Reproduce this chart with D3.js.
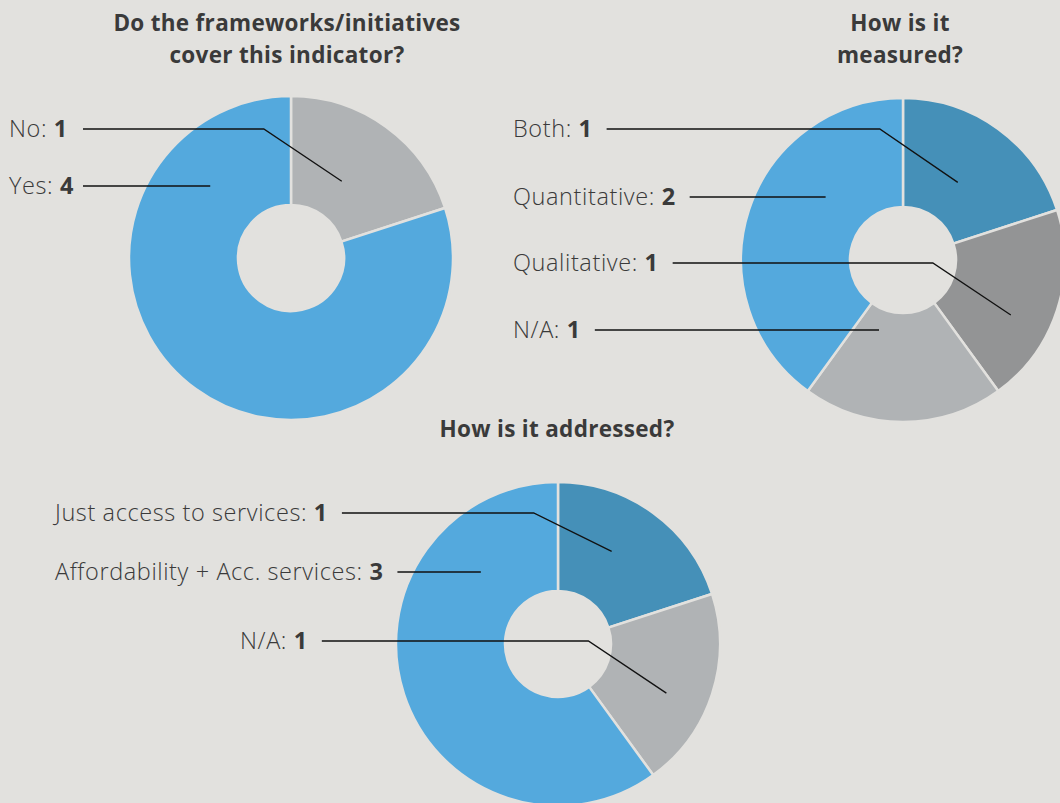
<!DOCTYPE html>
<html>
<head>
<meta charset="utf-8">
<script src="https://cdn.jsdelivr.net/npm/d3@7"></script>
<style>
  body { margin: 0; background: #e2e1de; }
  svg { display: block; }
  text { font-family: "Open Sans", Lato, sans-serif; fill: #3a3a3a; }
</style>
</head>
<body>
<svg width="1060" height="803"></svg>
<script>
// data
var coverLabels = ["No", "Yes"];
var coverValues = [1, 4];
var coverColors = ["#b0b3b5", "#54a9dd"];

var measuredLabels = ["Both", "Qualitative", "N/A", "Quantitative"];
var measuredValues = [1, 1, 1, 2];
var measuredColors = ["#4590b8", "#939495", "#b0b3b5", "#54a9dd"];

var addressedLabels = ["Just access to services", "N/A", "Affordability + Acc. services"];
var addressedValues = [1, 1, 3];
var addressedColors = ["#4590b8", "#b0b3b5", "#54a9dd"];

// layout: centre, title, label rows, leader anchor (angle deg, radius)
var charts = [
  { labels: coverLabels, values: coverValues, colors: coverColors,
    cx: 291, cy: 258, title: ["Do the frameworks/initiatives", "cover this indicator?"], tx: 287, ty: 31,
    labelX: [9, 9], labelY: [129, 186], lineX: [83, 83],
    anchor: [[33.5, 92], [311.6, 108]] },
  { labels: measuredLabels, values: measuredValues, colors: measuredColors,
    cx: 903, cy: 260, title: ["How is it", "measured?"], tx: 900, ty: 31,
    labelX: [513, 513, 513, 513], labelY: [129, 263, 330, 197], lineX: [null, null, null, null],
    anchor: [[35.2, 95], [117, 121], [198.9, 74], [309.3, 100]] },
  { labels: addressedLabels, values: addressedValues, colors: addressedColors,
    cx: 558, cy: 644, title: ["How is it addressed?"], tx: 557, ty: 437,
    labelX: [55, 240, 55], labelY: [513, 641, 572], lineX: [null, null, null],
    anchor: [[30.1, 107], [114.4, 119], [312.7, 105]] }
];

var svg = d3.select("svg");
var outerR = 162, innerR = 53;

var pie = d3.pie().sort(null).value(function(d) { return d; });
var arc = d3.arc().innerRadius(innerR).outerRadius(outerR);

charts.forEach(function(c) {
  var g = svg.append("g").attr("transform", "translate(" + c.cx + "," + c.cy + ")");

  g.selectAll("path")
    .data(pie(c.values))
    .enter().append("path")
      .attr("d", arc)
      .attr("fill", function(d, i) { return c.colors[i]; })
      .attr("stroke", "#e2e1de")
      .attr("stroke-width", 2.5);

  // titles
  svg.append("text")
    .attr("x", c.tx)
    .attr("text-anchor", "middle")
    .attr("font-size", "22.5px")
    .attr("font-weight", 700)
    .attr("letter-spacing", "0.3px")
    .selectAll("tspan")
    .data(c.title)
    .enter().append("tspan")
      .attr("x", c.tx)
      .attr("y", function(d, i) { return c.ty + i * 32; })
      .text(function(d) { return d; });

  // labels + leader lines
  c.labels.forEach(function(lab, i) {
    var ly = c.labelY[i];
    var t = svg.append("text")
      .attr("x", c.labelX[i])
      .attr("y", ly + 8)
      .attr("font-size", "23.5px")
      .attr("letter-spacing", "0.6px");
    t.append("tspan").attr("font-weight", 300).text(lab + ": ");
    t.append("tspan").attr("font-weight", 700).text(c.values[i]);

    var textEnd = c.labelX[i] + t.node().getComputedTextLength();
    var x0 = c.lineX[i] != null ? c.lineX[i] : textEnd + 14;

    var a = c.anchor[i][0] * Math.PI / 180, r = c.anchor[i][1];
    var ax = c.cx + r * Math.sin(a), ay = c.cy - r * Math.cos(a);
    var pts;
    if (Math.abs(ay - ly) > 3) {
      pts = [[x0, ly], [ax - 78, ly], [ax, ay]];
    } else {
      pts = [[x0, ly], [ax, ly]];
    }
    svg.append("path")
      .attr("d", d3.line()(pts))
      .attr("fill", "none")
      .attr("stroke", "#111")
      .attr("stroke-width", 1.3);
  });
});
</script>
</body>
</html>
